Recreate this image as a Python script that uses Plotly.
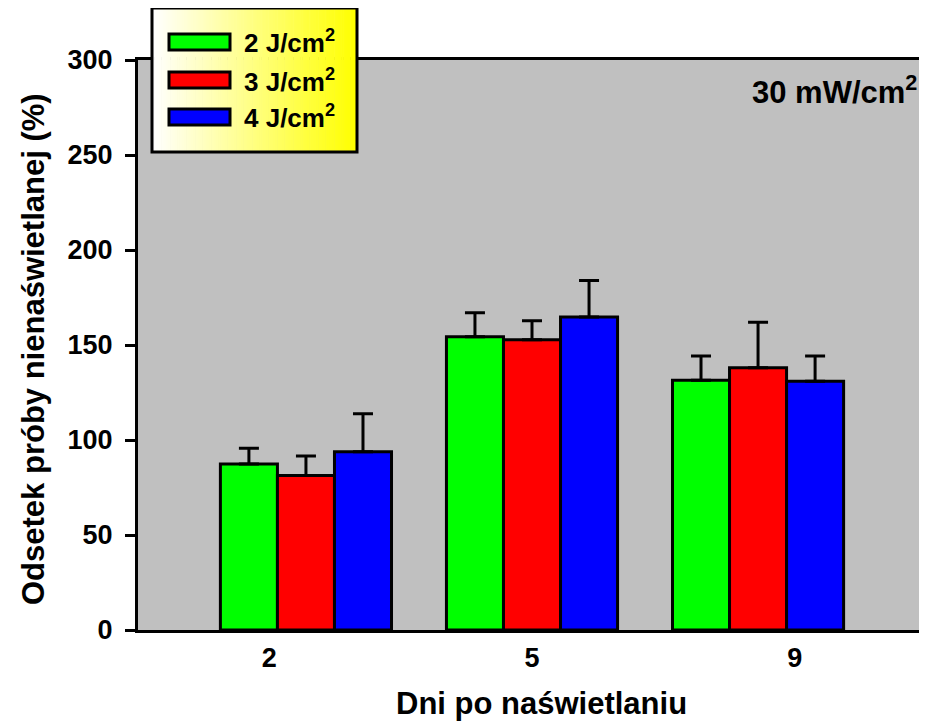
import plotly.graph_objects as go

days = ["2", "5", "9"]
series_names = ["2 J/cm<sup>2</sup>", "3 J/cm<sup>2</sup>", "4 J/cm<sup>2</sup>"]
colors = ["#00FF00", "#FF0000", "#0000FF"]
means = [
    [87.4, 154.4, 131.4],
    [81.3, 152.8, 138.0],
    [93.8, 164.7, 130.9],
]
errors = [
    [8.2, 12.6, 12.8],
    [10.3, 10.0, 24.0],
    [20.0, 19.3, 13.3],
]
y_ticks = [0, 50, 100, 150, 200, 250, 300]
x_title = "Dni po naświetlaniu"
y_title = "Odsetek próby nienaświetlanej (%)"
panel_label = "30 mW/cm<sup>2</sup>"

# page has an 8px body margin; figure sized to fit the 927x723 window
OFF = 8
W, H = 927 - OFF, 723 - OFF
L, R, T, B = 138 - OFF, 1, 60 - OFF, 93
pw, ph = W - L - R, H - T - B

def px(x):  # screenshot x -> paper
    return (x - OFF - L) / pw

def py(y):  # screenshot y -> paper
    return (H - B - (y - OFF)) / ph

FONT = "Liberation Sans, Arial, sans-serif"

fig = go.Figure()
for name, col, m, e in zip(series_names, colors, means, errors):
    fig.add_trace(go.Bar(
        x=days, y=m, name=name,
        marker=dict(color=col, line=dict(color="black", width=3)),
        error_y=dict(type="data", array=e, symmetric=False, arrayminus=[0]*len(e),
                     color="black", thickness=3, width=10),
        showlegend=False,
    ))
# invisible carrier for the label axis
fig.add_trace(go.Scatter(x=days, y=[0]*len(days), xaxis="x2", mode="markers",
                         marker=dict(opacity=0), hoverinfo="skip", showlegend=False))

shapes = []
x0, x1, y0, y1 = 152, 357, 8, 152
n = 90
for i in range(n):
    t = i / (n - 1)
    b = int(round(255 * (1 - t)))
    c = f"rgb(255,255,{b})"
    xa = x0 + (x1 - x0) * i / n
    xb = x0 + (x1 - x0) * (i + 1) / n + 0.6
    shapes.append(dict(type="rect", xref="paper", yref="paper", layer="above",
                       x0=px(xa), x1=px(min(xb, x1)), y0=py(y1), y1=py(y0),
                       fillcolor=c, line=dict(width=0)))
shapes.append(dict(type="rect", xref="paper", yref="paper", layer="above",
                   x0=px(x0), x1=px(x1), y0=py(y1), y1=py(y0),
                   fillcolor="rgba(0,0,0,0)", line=dict(color="black", width=3)))
annotations = []
row_y = [42, 80, 117]
for name, col, ry in zip(series_names, colors, row_y):
    shapes.append(dict(type="rect", xref="paper", yref="paper", layer="above",
                       x0=px(169), x1=px(230), y0=py(ry + 8), y1=py(ry - 8),
                       fillcolor=col, line=dict(color="black", width=3)))
    annotations.append(dict(xref="paper", yref="paper", x=px(242), y=py(ry),
                            xanchor="left", yanchor="middle", text=f"<b>{name}</b>", showarrow=False,
                            font=dict(family=FONT, size=26, color="black")))
annotations.append(dict(xref="paper", yref="paper", x=px(919), y=py(90),
                        xanchor="right", yanchor="middle", text=f"<b>{panel_label}</b>",
                        showarrow=False, font=dict(family=FONT, size=31, color="black")))
annotations.append(dict(xref="paper", yref="paper", x=px(541), y=py(703),
                        xanchor="center", yanchor="middle", text=f"<b>{x_title}</b>",
                        showarrow=False, font=dict(family=FONT, size=31, color="black")))
annotations.append(dict(xref="paper", yref="paper", x=px(33), y=py(349),
                        xanchor="center", yanchor="middle", textangle=-90, text=f"<b>{y_title}</b>",
                        showarrow=False, font=dict(family=FONT, size=31, color="black")))

fig.update_layout(
    width=W, height=H,
    margin=dict(l=L, r=R, t=T, b=B),
    paper_bgcolor="white",
    plot_bgcolor="#C0C0C0",
    barmode="group",
    bargap=0.243,
    bargroupgap=0,
    font=dict(family=FONT, size=27, color="black"),
    shapes=shapes,
    annotations=annotations,
    xaxis=dict(
        type="category", range=[-0.743, 2.743],
        showticklabels=False,
        showline=True, linecolor="black", linewidth=3, mirror=True,
        ticks="", showgrid=False, zeroline=False,
    ),
    xaxis2=dict(
        type="category", categoryorder="array", categoryarray=days,
        overlaying="x", anchor="y", side="bottom", range=[-0.5, 2.5],
        tickvals=days, ticktext=[f"<b>{d}</b>" for d in days],
        showline=False, ticks="", showgrid=False, zeroline=False,
        tickfont=dict(family=FONT, size=27), ticklabelstandoff=9,
    ),
    yaxis=dict(
        range=[0, 300], tickvals=y_ticks, ticktext=[f"<b>{v}</b>" for v in y_ticks],
        showline=True, linecolor="black", linewidth=3,
        ticks="outside", ticklen=10, tickwidth=3, tickcolor="black",
        showgrid=False, zeroline=False,
        tickfont=dict(family=FONT, size=27), ticklabelstandoff=7,
    ),
)

fig.write_html("out.html")
